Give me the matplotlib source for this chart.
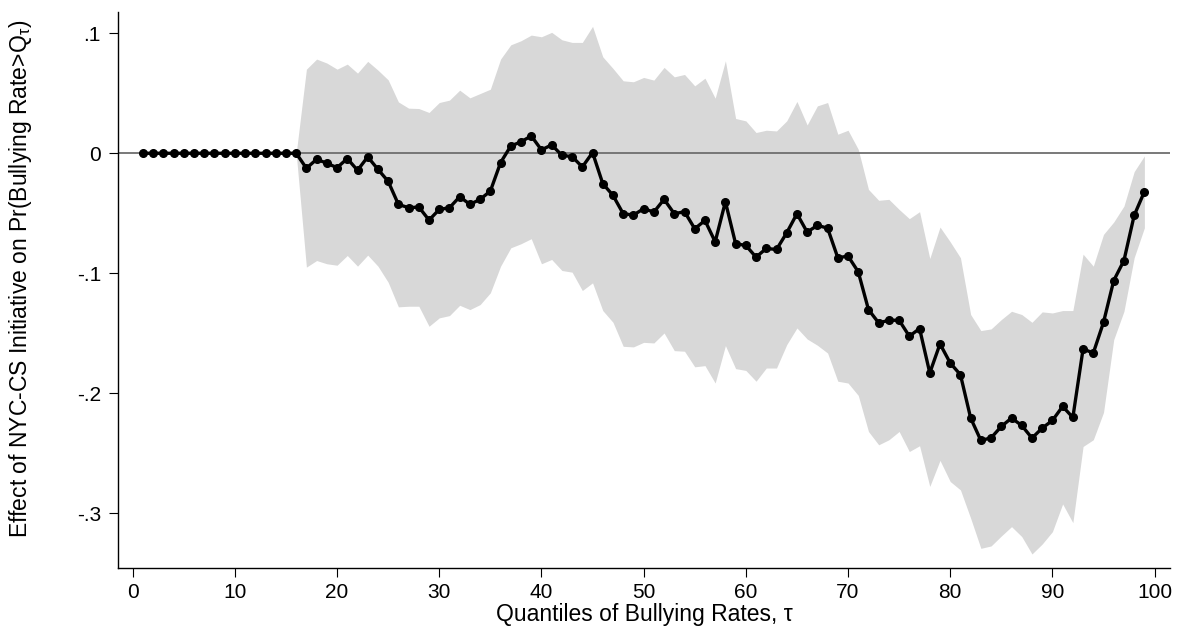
import matplotlib
matplotlib.use("Agg")
import matplotlib.pyplot as plt

# quantiles of bullying rates (tau)
quantiles = list(range(1, 100))

effect = [
    0.0, 0.0, 0.0, 0.0, 0.0, 0.0, 0.0, 0.0, 0.0, 0.0, 0.0, 0.0, 0.0, 0.0, 0.0, 0.0,
    -0.0125, -0.0050, -0.0083, -0.0120, -0.0044, -0.0142, -0.0030, -0.0134, -0.0234, -0.0426,
    -0.0454, -0.0448, -0.0557, -0.0468, -0.0454, -0.0362, -0.0426, -0.0384, -0.0315, -0.0078,
    0.0061, 0.0095, 0.0145, 0.0028, 0.0070, -0.0017, -0.0028, -0.0114, 0.0006, -0.0253,
    -0.0351, -0.0504, -0.0515, -0.0462, -0.0490, -0.0384, -0.0504, -0.0487, -0.0629, -0.0560,
    -0.0738, -0.0404, -0.0754, -0.0768, -0.0866, -0.0793, -0.0802, -0.0663, -0.0504, -0.0657,
    -0.0601, -0.0624, -0.0871, -0.0857, -0.0988, -0.1303, -0.1414, -0.1392, -0.1392, -0.1525,
    -0.1461, -0.1831, -0.1589, -0.1748, -0.1846, -0.2207, -0.2394, -0.2372, -0.2277, -0.2207,
    -0.2269, -0.2374, -0.2291, -0.2227, -0.2110, -0.2202, -0.1631, -0.1665, -0.1409, -0.1061,
    -0.0894, -0.0518, -0.0320,
]

ci_upper = [
    0.0, 0.0, 0.0, 0.0, 0.0, 0.0, 0.0, 0.0, 0.0, 0.0, 0.0, 0.0, 0.0, 0.0, 0.0, 0.0,
    0.0701, 0.0785, 0.0752, 0.0701, 0.0743, 0.0668, 0.0766, 0.0693, 0.0612, 0.0428,
    0.0376, 0.0373, 0.0340, 0.0423, 0.0443, 0.0526, 0.0462, 0.0498, 0.0534, 0.0785,
    0.0904, 0.0938, 0.0985, 0.0971, 0.1008, 0.0946, 0.0924, 0.0924, 0.1058, 0.0804,
    0.0707, 0.0604, 0.0596, 0.0632, 0.0610, 0.0716, 0.0637, 0.0657, 0.0562, 0.0626,
    0.0459, 0.0771, 0.0290, 0.0270, 0.0173, 0.0192, 0.0186, 0.0270, 0.0432, 0.0236,
    0.0395, 0.0423, 0.0159, 0.0192, 0.0033, -0.0301, -0.0392, -0.0384, -0.0468, -0.0545,
    -0.0487, -0.0877, -0.0615, -0.0738, -0.0871, -0.1344, -0.1478, -0.1464, -0.1386, -0.1317,
    -0.1344, -0.1409, -0.1322, -0.1331, -0.1311, -0.1311, -0.0841, -0.0941, -0.0676, -0.0573,
    -0.0440, -0.0153, -0.0022,
]

ci_lower = [
    0.0, 0.0, 0.0, 0.0, 0.0, 0.0, 0.0, 0.0, 0.0, 0.0, 0.0, 0.0, 0.0, 0.0, 0.0, 0.0,
    -0.0949, -0.0894, -0.0921, -0.0933, -0.0852, -0.0941, -0.0849, -0.0941, -0.1075, -0.1280,
    -0.1275, -0.1275, -0.1442, -0.1372, -0.1353, -0.1267, -0.1303, -0.1261, -0.1163, -0.0941,
    -0.0788, -0.0754, -0.0712, -0.0921, -0.0885, -0.0977, -0.0991, -0.1144, -0.1080, -0.1311,
    -0.1409, -0.1609, -0.1614, -0.1576, -0.1581, -0.1498, -0.1645, -0.1650, -0.1780, -0.1770,
    -0.1915, -0.1603, -0.1795, -0.1810, -0.1900, -0.1790, -0.1790, -0.1595, -0.1456, -0.1548,
    -0.1600, -0.1665, -0.1900, -0.1915, -0.2018, -0.2319, -0.2430, -0.2388, -0.2319, -0.2486,
    -0.2438, -0.2777, -0.2560, -0.2736, -0.2806, -0.3042, -0.3293, -0.3273, -0.3190, -0.3112,
    -0.3195, -0.3340, -0.3257, -0.3154, -0.2923, -0.3079, -0.2444, -0.2388, -0.2160, -0.1553,
    -0.1317, -0.0870, -0.0621,
]

x_ticks = [0, 10, 20, 30, 40, 50, 60, 70, 80, 90, 100]
y_ticks = [0.1, 0.0, -0.1, -0.2, -0.3]
y_tick_labels = [".1", "0", "-.1", "-.2", "-.3"]


def run_plot():
    plt.rcParams['font.family'] = ['Liberation Sans', 'DejaVu Sans']
    plt.rcParams['mathtext.fontset'] = 'custom'
    plt.rcParams['mathtext.rm'] = 'Liberation Sans'

    fig = plt.figure(figsize=(11.77, 6.33), dpi=100)
    ax = fig.add_axes([0.1005, 0.1019, 0.8935, 0.8796])

    ax.fill_between(quantiles, ci_lower, ci_upper, color='#d8d8d8', linewidth=0, zorder=1)
    ax.axhline(0, color='#6e6e6e', lw=1.3, zorder=2)
    ax.plot(quantiles, effect, color='black', lw=2.4, marker='o', ms=5.5, zorder=3)

    ax.set_xlim(-1.41, 101.5)
    ax.set_ylim(-0.3461, 0.118)
    ax.set_xticks(x_ticks)
    ax.set_yticks(y_ticks)
    ax.set_yticklabels(y_tick_labels)

    for side in ['top', 'right']:
        ax.spines[side].set_visible(False)
    for side in ['left', 'bottom']:
        ax.spines[side].set_linewidth(1.0)
    ax.tick_params(direction='out', length=6.5, width=0.8, labelsize=15)
    ax.tick_params(axis='x', pad=4)
    ax.tick_params(axis='y', pad=6)

    ax.set_xlabel('Quantiles of Bullying Rates, τ', fontsize=16.5, labelpad=1)
    ax.set_ylabel(r'Effect of NYC-CS Initiative on Pr(Bullying Rate>Q$_\mathregular{τ}$)',
                  fontsize=16.5)
    ax.yaxis.set_label_coords(-0.08, 0.52)

    fig.savefig('out.png', dpi=100)


if __name__ == "__main__":
    run_plot()
